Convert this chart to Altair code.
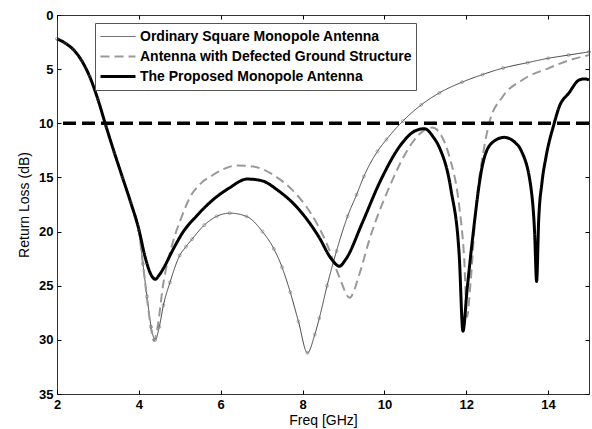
import altair as alt
import pandas as pd

SERIES = [
    "Ordinary Square Monopole Antenna",
    "Antenna with Defected Ground Structure",
    "The Proposed Monopole Antenna",
]

# Ordinary square monopole antenna
ordinary_freq = [2.0, 2.2, 2.4, 2.6, 2.8, 3.0, 3.2, 3.4, 3.6, 3.8, 4.0, 4.1, 4.2, 4.3, 4.4,
                 4.5, 4.6, 4.76, 5.0, 5.15, 5.3, 5.6, 5.9, 6.22, 6.63, 7.02, 7.3, 7.5, 7.7,
                 7.9, 8.12, 8.3, 8.41, 8.6, 8.83, 9.1, 9.32, 9.5, 9.83, 10.05, 10.45, 10.9,
                 11.34, 11.9, 12.4, 12.9, 13.5, 14.0, 14.5, 15.0]
ordinary_rl = [2.2, 2.6, 3.2, 4.2, 5.7, 7.8, 10.3, 12.7, 15.0, 17.3, 19.9, 23.0, 26.0, 28.8,
               30.0, 28.8, 26.8, 24.7, 22.2, 21.4, 20.7, 19.4, 18.6, 18.3, 18.6, 20.0, 21.6,
               23.3, 25.6, 28.3, 31.2, 29.5, 28.0, 25.0, 21.8, 18.6, 16.6, 14.9, 12.6, 11.5,
               9.8, 8.3, 7.2, 6.2, 5.5, 4.9, 4.4, 4.0, 3.7, 3.4]

# Antenna with defected ground structure
dgs_freq = [2.0, 2.2, 2.4, 2.6, 2.8, 3.0, 3.2, 3.4, 3.6, 3.8, 4.0, 4.1, 4.2, 4.3, 4.37,
            4.45, 4.59, 4.83, 5.05, 5.24, 5.5, 5.8, 6.4, 6.8, 7.3, 7.76, 8.2, 8.59, 8.9,
            9.15, 9.4, 9.63, 10.12, 10.68, 10.95, 11.17, 11.4, 11.59, 11.83, 11.95, 12.02,
            12.1, 12.24, 12.44, 12.56, 12.88, 13.37, 14.02, 14.5, 15.0]
dgs_rl = [2.2, 2.6, 3.2, 4.2, 5.7, 7.8, 10.3, 12.7, 15.0, 17.3, 20.0, 23.0, 26.2, 29.0,
          30.1, 29.0, 25.0, 21.0, 18.6, 16.9, 15.6, 14.8, 13.9, 14.0, 14.8, 16.2, 18.3,
          21.1, 24.2, 26.1, 23.8, 20.8, 15.9, 11.8, 10.7, 10.4, 11.2, 13.1, 17.7, 22.5,
          27.9, 25.0, 17.7, 12.2, 10.0, 7.6, 6.0, 4.9, 4.2, 3.7]

# Proposed monopole antenna
proposed_freq = [2.0, 2.2, 2.4, 2.6, 2.8, 3.0, 3.2, 3.4, 3.6, 3.8, 4.0, 4.15, 4.3, 4.4,
                 4.5, 4.6, 4.83, 5.07, 5.4, 5.8, 6.2, 6.65, 7.0, 7.4, 7.85, 8.4, 8.7, 8.9,
                 9.05, 9.46, 9.88, 10.44, 10.75, 10.98, 11.2, 11.34, 11.63, 11.83, 11.92,
                 12.02, 12.15, 12.39, 12.63, 12.93, 13.2, 13.34, 13.59, 13.67, 13.72,
                 13.77, 13.85, 13.95, 14.15, 14.27, 14.51, 14.76, 14.9, 15.0]
proposed_rl = [2.2, 2.6, 3.2, 4.2, 5.7, 7.8, 10.3, 12.7, 15.0, 17.3, 19.8, 22.3, 24.0,
               24.4, 24.0, 23.4, 21.7, 20.1, 18.6, 17.1, 16.0, 15.15, 15.3, 16.2, 17.7,
               20.5, 22.5, 23.2, 22.6, 19.2, 15.5, 11.8, 10.7, 10.5, 11.3, 12.2, 16.2,
               22.3, 29.2, 25.4, 20.8, 14.0, 11.8, 11.3, 11.8, 12.5, 16.2, 20.0, 24.6,
               19.0, 15.5, 13.1, 10.0, 8.5, 7.2, 6.0, 5.9, 6.0]

threshold = [10]

x_ticks = [2, 4, 6, 8, 10, 12, 14]
y_ticks = [0, 5, 10, 15, 20, 25, 30, 35]

frames = []
for name, f, r in [(SERIES[0], ordinary_freq, ordinary_rl),
                   (SERIES[1], dgs_freq, dgs_rl),
                   (SERIES[2], proposed_freq, proposed_rl)]:
    frames.append(pd.DataFrame({"freq": f, "rl": r, "series": name}))
df = pd.concat(frames, ignore_index=True)
ordinary_df = df[df["series"] == SERIES[0]]

x_scale = alt.Scale(domain=[2, 15], nice=False, zero=False)
y_scale = alt.Scale(domain=[0, 35], nice=False, reverse=True)

# short inward ticks drawn as clipped grid lines
inner_tick = dict(grid=True, gridDash=[4, 1000], gridColor="#000", gridOpacity=1,
                  gridWidth=1, ticks=False, domain=False)

x_bottom = alt.Axis(values=x_ticks, orient="bottom", title="Freq [GHz]",
                    labelFontWeight="bold", labelFontSize=13, labelColor="#000",
                    labelPadding=4, labelFlush=False,
                    titleFontSize=14, titleFontWeight="normal", titleColor="#000",
                    titlePadding=2, **inner_tick)
y_left = alt.Axis(values=y_ticks, orient="left", title="Return Loss (dB)",
                  labelFontWeight="bold", labelFontSize=13, labelColor="#000",
                  labelPadding=4, labelFlush=False,
                  titleFontSize=14, titleFontWeight="normal", titleColor="#000",
                  titlePadding=7, **inner_tick)
x_top = alt.Axis(values=x_ticks, orient="top", labels=False, title=None, **inner_tick)
y_right = alt.Axis(values=y_ticks, orient="right", labels=False, title=None, **inner_tick)

legend = alt.Legend(title=None)

lines = alt.Chart(df).mark_line(interpolate="monotone").encode(
    x=alt.X("freq:Q", scale=x_scale, axis=x_bottom),
    y=alt.Y("rl:Q", scale=y_scale, axis=y_left),
    color=alt.Color("series:N", scale=alt.Scale(domain=SERIES,
                    range=["#444444", "#999999", "#000000"]), legend=legend),
    strokeDash=alt.StrokeDash("series:N", scale=alt.Scale(domain=SERIES,
                              range=[[1, 0], [9, 5], [1, 0]]), legend=legend),
    strokeWidth=alt.StrokeWidth("series:N", scale=alt.Scale(domain=SERIES,
                                range=[1, 3, 3]), legend=legend),
    order="freq:Q",
)

markers = alt.Chart(ordinary_df).mark_point(
    shape="circle", filled=False, size=9, color="#666666", strokeWidth=0.7
).encode(
    x=alt.X("freq:Q", scale=x_scale, axis=x_top),
    y=alt.Y("rl:Q", scale=y_scale, axis=y_right),
)

limit = alt.Chart(pd.DataFrame({"threshold": threshold})).mark_rule(
    color="#000", strokeWidth=3.5, strokeDash=[13, 6]
).encode(y=alt.Y("threshold:Q", scale=y_scale, axis=None))

chart = alt.layer(lines, markers, limit).resolve_axis(
    x="independent", y="independent"
).properties(
    width=532, height=379,
    padding={"left": 57, "top": 15, "right": 3, "bottom": 35},
    autosize="none",
).configure(
    font="Liberation Sans",
).configure_view(
    stroke="#333333", strokeWidth=1,
).configure_legend(
    orient="none", legendX=38, legendY=8,
    fillColor="#ffffff", strokeColor="#555555", padding=4,
    labelFontSize=14, labelFontWeight="bold", labelColor="#000",
    symbolType="stroke", symbolSize=1225, clipHeight=19, rowPadding=1,
    labelOffset=3, labelLimit=400,
)

chart.save("out.html", embed_options={"renderer": "svg", "actions": False})
